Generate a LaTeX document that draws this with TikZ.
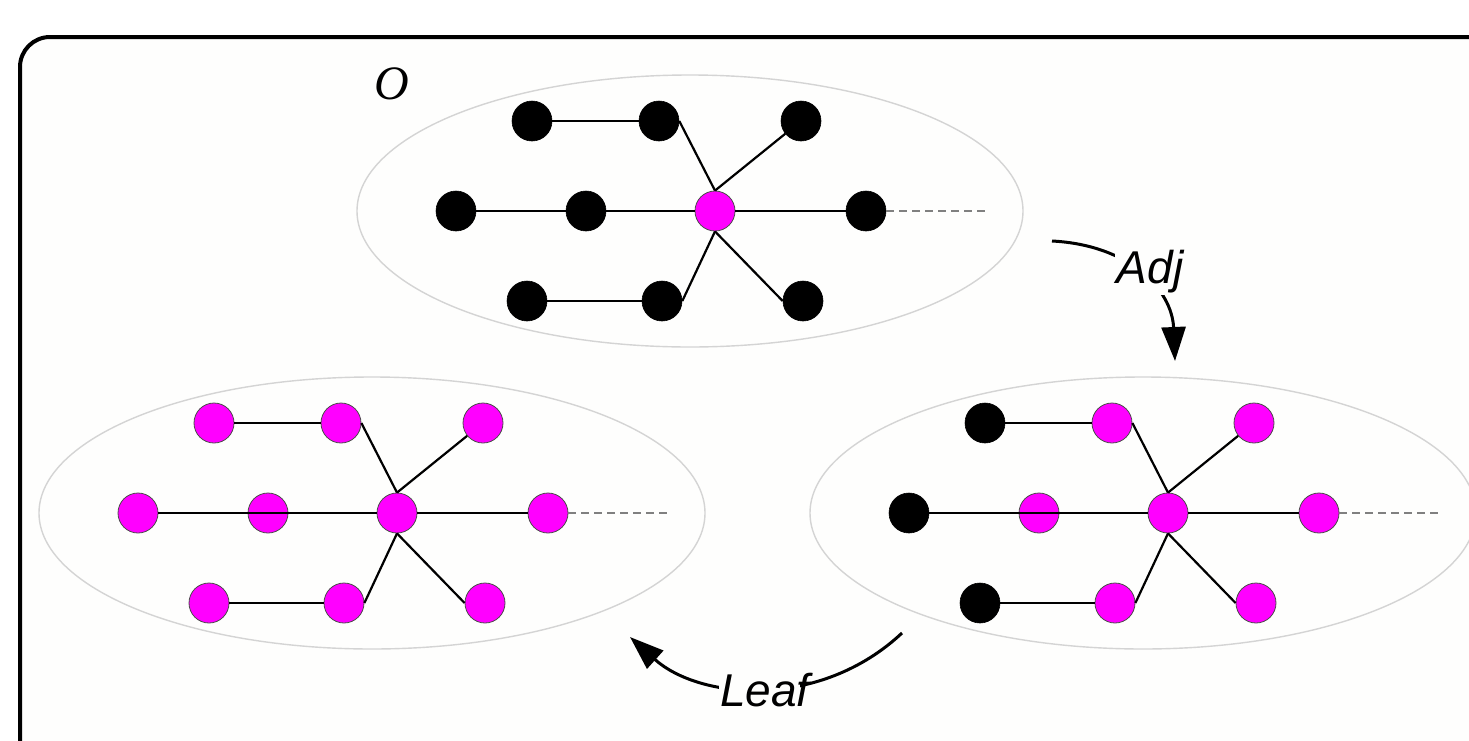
\documentclass[tikz,border=0pt]{standalone}
\usepackage{fontspec}
\newfontfamily\lblfont{Liberation Sans}
\newfontfamily\oserif{Liberation Serif}
\usetikzlibrary{arrows.meta}
\definecolor{bgc}{RGB}{254,254,253}
\definecolor{ellc}{RGB}{212,212,212}
\definecolor{mag}{RGB}{255,0,255}
\tikzset{
  bnode/.style={circle,fill=black,draw=black,line width=0.3pt,minimum size=20pt,inner sep=0pt},
  mnode/.style={circle,fill=mag,draw=black!70,line width=0.4pt,minimum size=20pt,inner sep=0pt},
  edge/.style={line width=1.1pt,black},
  dashln/.style={dashed,dash pattern=on 4pt off 2.5pt,line width=0.7pt,black!50},
  ell/.style={draw=ellc,line width=0.7pt},
  lbl/.style={font=\lblfont\itshape\fontsize{23}{27}\selectfont,fill=bgc,inner sep=1pt},
  bigarrow/.style={line width=1.5pt,-{Triangle[length=17pt,width=12pt]}}
}
% #1 prefix, #2 shift, #3 style of outer-left nodes, #4 style of the other nodes
\newcommand{\gph}[4]{%
\begin{scope}[shift={#2}]
  \draw[ell] (-25,0) ellipse [x radius=166.5pt, y radius=68pt];
  \node[#3] (#1tl) at (-183,-90) {};
  \node[#4] (#1tm) at (-56,-90) {};
  \node[#4] (#1tr) at (86,-90) {};
  \node[#3] (#1ml) at (-259,0) {};
  \node[#4] (#1mm) at (-129,0) {};
  \node[mnode] (#1c) at (0,0) {};
  \node[#4] (#1mr) at (151,0) {};
  \node[#3] (#1bl) at (-188,90) {};
  \node[#4] (#1bm) at (-53,90) {};
  \node[#4] (#1br) at (88,90) {};
  \coordinate (#1d) at (272,0);
  \draw[edge] (#1tl.east) -- (#1tm.west);
  \draw[edge] (#1tm.east) -- (#1c.north);
  \draw[edge] (#1c.north) -- (#1tr);
  \draw[edge] (#1ml.east) -- (#1c.west);
  \draw[edge] (#1c.east) -- (#1mr.west);
  \draw[edge] (#1bl.east) -- (#1bm.west);
  \draw[edge] (#1bm.east) -- (#1c.south);
  \draw[edge] (#1c.south) -- (#1br.west);
  \draw[dashln] (#1mr.east) -- (#1d);
\end{scope}}
\begin{document}
\begin{tikzpicture}[x=0.5pt,y=-0.5pt]
\useasboundingbox (0,0) rectangle (1469,740);
\clip (0,0) rectangle (1469,740);
\fill[white] (0,0) rectangle (1469,740);
\draw[line width=2pt,fill=bgc,rounded corners=15pt] (20,37) rectangle (1520,790);
\node[font=\oserif\itshape\fontsize{24}{28}\selectfont,inner sep=0pt] (olbl) at (392,84) {O};
\gph{a}{(715,211)}{bnode}{bnode}
\gph{b}{(397,513)}{mnode}{mnode}
\gph{r}{(1168,513)}{bnode}{mnode}
\coordinate (adjs) at (1052,241);
\coordinate (adjt) at (1175,361);
\draw[bigarrow] (adjs) .. controls (1130,245) and (1172,290) .. (adjt);
\node[lbl] (adj) at (1150,272) {Adj};
\coordinate (leafs) at (902,633);
\coordinate (leaft) at (630,637);
\draw[bigarrow] (leafs) .. controls (820,710) and (700,700) .. (leaft);
\fill[bgc] (719,672) rectangle (800,708);
\node[lbl,fill=none] (leaf) at (765,690) {Leaf};
\end{tikzpicture}
\end{document}
